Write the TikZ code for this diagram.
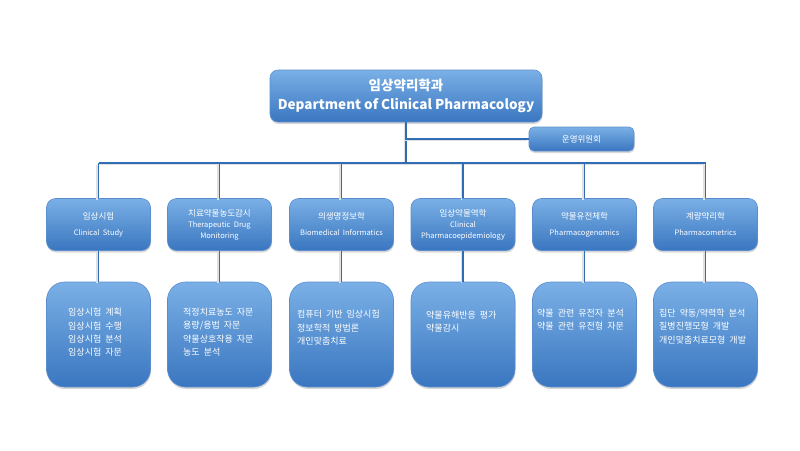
\documentclass[tikz,border=0pt]{standalone}
\usepackage{fontspec}
\setmainfont{Noto Sans CJK KR}
\usetikzlibrary{shadows}
\definecolor{linec}{RGB}{47,110,181}
\definecolor{boxtop}{RGB}{122,176,230}
\definecolor{boxbot}{RGB}{58,118,192}
\definecolor{boxedge}{RGB}{92,142,206}
\begin{document}
\begin{tikzpicture}[x=1pt,y=1pt,
  box/.style={draw=boxedge, line width=0.6pt, top color=boxtop, bottom color=boxbot,
    text=white, inner sep=2pt, align=center,
    drop shadow={shadow xshift=0.5pt, shadow yshift=-2pt, opacity=0.3}},
  topbox/.style={box, minimum width=272, minimum height=52, rounded corners=8,
    font=\fontsize{13.5}{19}\selectfont\bfseries},
  combox/.style={box, minimum width=105, minimum height=24, rounded corners=5,
    font=\fontsize{8.5}{10}\selectfont},
  midbox/.style={box, minimum width=104, minimum height=52, rounded corners=9,
    font=\fontsize{7.5}{11}\selectfont},
  lowbox/.style={box, minimum width=104, minimum height=105, rounded corners=18},
  lowtext/.style={anchor=north west, inner sep=0pt, align=left, text=white,
    font=\fontsize{9}{13.3}\selectfont},
  conn/.style={draw=linec, line width=1.2pt,
    preaction={draw=black!12, line width=1.4pt, transform canvas={xshift=-1.5pt, yshift=-1.5pt}}}
]
\useasboundingbox (0,0) rectangle (800,-450);
\fill[white] (0,0) rectangle (800,-450);

\coordinate (bus) at (0,-163);
\node[topbox] (top) at (406,-96) {임상약리학과\\Department of Clinical Pharmacology};
\node[combox] (com) at (581.5,-139) {운영위원회};

\node[midbox] (m1) at (98.5,-224.5) {\fontsize{8.5}{11}\selectfont 임상시험\\[5pt]Clinical\ \ Study};
\node[midbox] (m2) at (219.5,-224.5) {\fontsize{8.5}{11}\selectfont 치료약물농도감시\\Therapeutic\ \ Drug\\Monitoring};
\node[midbox] (m3) at (341.5,-224.5) {\fontsize{8.5}{11}\selectfont 의생명정보학\\[5pt]Biomedical\ \ Informatics};
\node[midbox] (m4) at (463,-224.5) {\fontsize{8.5}{11}\selectfont 임상약물역학\\Clinical\\Pharmacoepidemiology};
\node[midbox] (m5) at (584.5,-224.5) {\fontsize{8.5}{11}\selectfont 약물유전체학\\[5pt]Pharmacogenomics};
\node[midbox] (m6) at (705.5,-224.5) {\fontsize{8.5}{11}\selectfont 계량약리학\\[5pt]Pharmacometrics};

\node[lowbox] (b1) at (98.5,-334.5) {};
\node[lowbox] (b2) at (219.5,-334.5) {};
\node[lowbox] (b3) at (341.5,-334.5) {};
\node[lowbox] (b4) at (463,-334.5) {};
\node[lowbox] (b5) at (584.5,-334.5) {};
\node[lowbox] (b6) at (705.5,-334.5) {};

\path[conn] (top.south) -- (top.south |- bus);
\path[conn] (top.south |- com.west) -- (com.west);
\path[conn] (m1.north |- bus) -- (m6.north |- bus);
\foreach \i in {1,...,6}{
  \path[conn] (m\i.north |- bus) -- (m\i.north);
  \path[conn] (m\i.south) -- (b\i.north);
}

\node[lowtext] (t1) at (68,-308) {임상시험\ \ 계획\\임상시험\ \ 수행\\임상시험\ \ 분석\\임상시험\ \ 자문};
\node[lowtext] (t2) at (183,-308) {적정치료농도\ \ 자문\\용량/용법\ \ 자문\\약물상호작용\ \ 자문\\농도\ \ 분석};
\node[lowtext] (t3) at (297,-310) {컴퓨터\ \ 기반\ \ 임상시험\\정보학적\ \ 방법론\\개인맞춤치료};
\node[lowtext] (t4) at (426,-311) {약물유해반응\ \ 평가\\약물감시};
\node[lowtext] (t5) at (537,-309) {약물\ \ 관련\ \ 유전자\ \ 분석\\약물\ \ 관련\ \ 유전형\ \ 자문};
\node[lowtext] (t6) at (659,-309) {집단\ \ 약동/약력학\ \ 분석\\질병진행모형\ \ 개발\\개인맞춤치료모형\ \ 개발};
\end{tikzpicture}
\end{document}
